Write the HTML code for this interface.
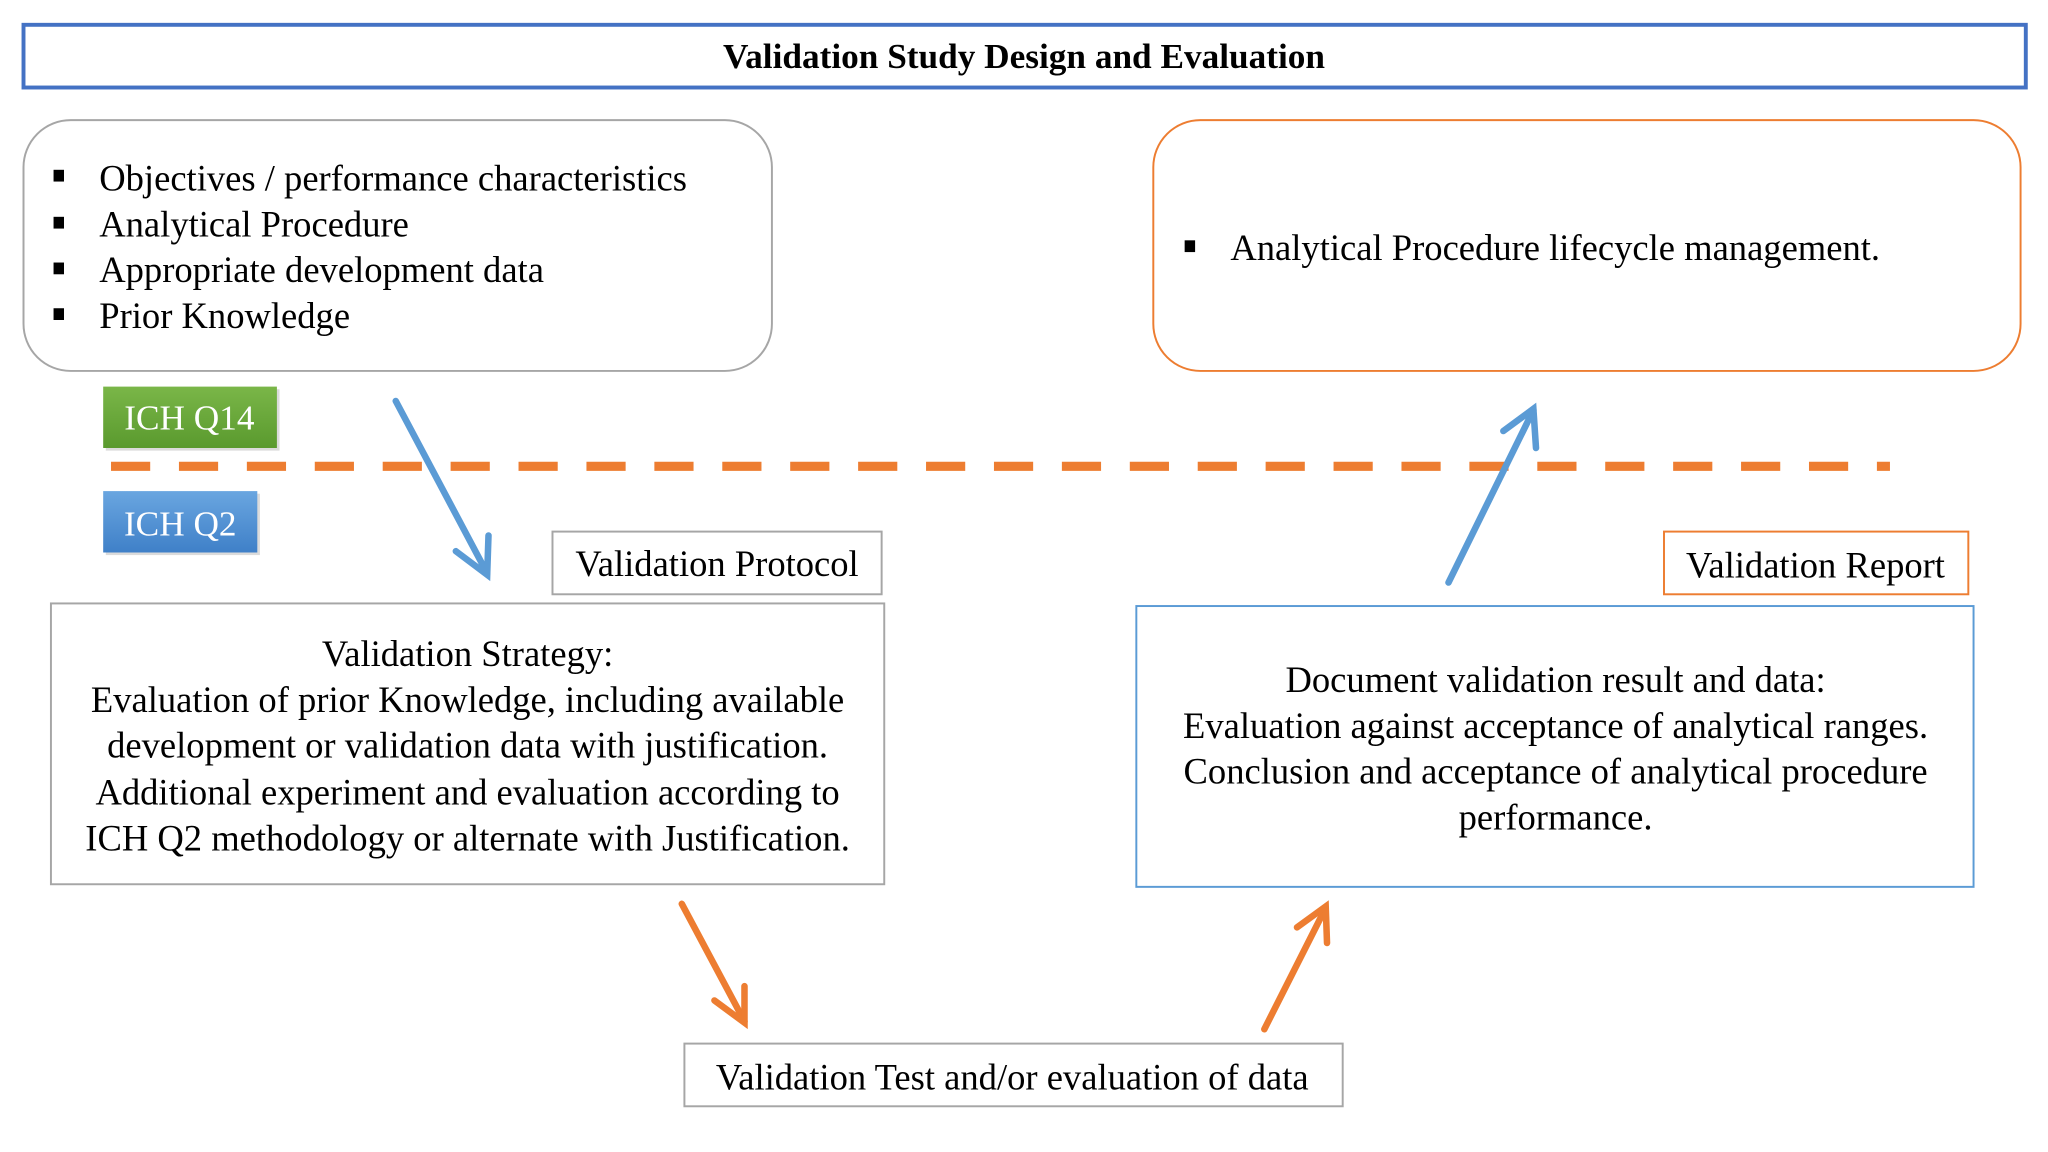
<!DOCTYPE html>
<html><head><meta charset="utf-8"><style>
html,body{margin:0;padding:0;background:#fff;}
svg{display:block;}
text{font-family:"Liberation Serif",serif;fill:#000;}
</style></head><body>
<svg width="2048" height="1152" viewBox="0 0 1568 882" xmlns="http://www.w3.org/2000/svg">
<defs>
<linearGradient id="g" x1="0" y1="0" x2="0" y2="1"><stop offset="0" stop-color="#7ab648"/><stop offset="1" stop-color="#5a9a2e"/></linearGradient>
<linearGradient id="b" x1="0" y1="0" x2="0" y2="1"><stop offset="0" stop-color="#6aa6e0"/><stop offset="1" stop-color="#3f80c8"/></linearGradient>
</defs>
<rect x="18" y="19" width="1533" height="48" fill="#fff" stroke="#4472c4" stroke-width="3"/>
<text x="784" y="52" font-size="27" font-weight="bold" text-anchor="middle">Validation Study Design and Evaluation</text>

<rect x="18" y="92" width="573" height="192" rx="36" fill="#fff" stroke="#a6a6a6" stroke-width="1.5"/>
<g font-size="28">
<rect x="41" y="130" width="8" height="9" fill="#000"/><text x="76" y="146">Objectives / performance characteristics</text>
<rect x="41" y="166" width="8" height="9" fill="#000"/><text x="76" y="181">Analytical Procedure</text>
<rect x="41" y="201" width="8" height="9" fill="#000"/><text x="76" y="216">Appropriate development data</text>
<rect x="41" y="236" width="8" height="9" fill="#000"/><text x="76" y="251">Prior Knowledge</text>
</g>

<rect x="883" y="92" width="664" height="192" rx="36" fill="#fff" stroke="#ed7d31" stroke-width="1.5"/>
<rect x="907" y="184" width="8" height="9" fill="#000"/><text x="942" y="199" font-size="28">Analytical Procedure lifecycle management.</text>

<rect x="81" y="298" width="133" height="47" fill="#888" opacity="0.3"/>
<rect x="79" y="296" width="133" height="47" fill="url(#g)"/>
<text x="145" y="329" font-size="27" text-anchor="middle" style="fill:#fff">ICH Q14</text>
<rect x="81" y="378" width="118" height="47" fill="#888" opacity="0.3"/>
<rect x="79" y="376" width="118" height="47" fill="url(#b)"/>
<text x="138" y="410" font-size="27" text-anchor="middle" style="fill:#fff">ICH Q2</text>

<line x1="85" y1="357" x2="1447" y2="357" stroke="#ed7d31" stroke-width="7" stroke-dasharray="30 22"/>

<g stroke="#5b9bd5" stroke-width="5" fill="none" stroke-linecap="round">
<line x1="303" y1="307" x2="373" y2="439"/>
<polyline points="349,422 373,440 374,410"/>
<line x1="1109" y1="446" x2="1174" y2="314"/>
<polyline points="1151,330 1174,313 1176,343"/>
</g>
<g stroke="#ed7d31" stroke-width="5" fill="none" stroke-linecap="round">
<line x1="522" y1="692" x2="570" y2="782"/>
<polyline points="547,766 570,783 570,755"/>
<line x1="968" y1="788" x2="1015" y2="695"/>
<polyline points="993,710 1015,694 1016,722"/>
</g>

<rect x="423" y="407" width="252" height="48" fill="#fff" stroke="#a6a6a6" stroke-width="1.5"/>
<text x="549" y="441" font-size="28" text-anchor="middle">Validation Protocol</text>
<rect x="39" y="462" width="638" height="215" fill="#fff" stroke="#a6a6a6" stroke-width="1.5"/>
<g font-size="28" text-anchor="middle">
<text x="358" y="510">Validation Strategy:</text>
<text x="358" y="545">Evaluation of prior Knowledge, including available</text>
<text x="358" y="580">development or validation data with justification.</text>
<text x="358" y="616">Additional experiment and evaluation according to</text>
<text x="358" y="651">ICH Q2 methodology or alternate with Justification.</text>
</g>

<rect x="1274" y="407" width="233" height="48" fill="#fff" stroke="#ed7d31" stroke-width="1.5"/>
<text x="1390" y="442" font-size="28" text-anchor="middle">Validation Report</text>
<rect x="870" y="464" width="641" height="215" fill="#fff" stroke="#5b9bd5" stroke-width="1.5"/>
<g font-size="28" text-anchor="middle">
<text x="1191" y="530">Document validation result and data:</text>
<text x="1191" y="565">Evaluation against acceptance of analytical ranges.</text>
<text x="1191" y="600">Conclusion and acceptance of analytical procedure</text>
<text x="1191" y="635">performance.</text>
</g>

<rect x="524" y="799" width="504" height="48" fill="#fff" stroke="#a6a6a6" stroke-width="1.5"/>
<text x="775" y="834" font-size="28" text-anchor="middle">Validation Test and/or evaluation of data</text>
</svg>
</body></html>
